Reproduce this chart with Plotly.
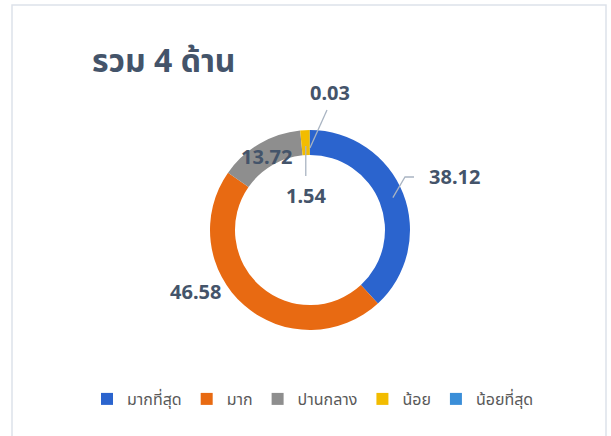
import math
import plotly.graph_objects as go

# ---- data ----
categories = ["มากที่สุด", "มาก", "ปานกลาง", "น้อย", "น้อยที่สุด"]
values = [38.12, 46.58, 13.72, 1.54, 0.03]
title_text = "รวม 4 ด้าน"

# ---- style ----
colors = ["#2B64CE", "#E86A12", "#8E8E8E", "#F2BC00", "#3A8ED8"]
W, H = 611, 436
CX, CY, R = 310, 230, 100       # donut centre / radius in px
HOLE = 0.75
TXT = "#44546A"
LINE = "#A9B4C2"
FONT = "Noto Sans, Noto Sans Thai, Tahoma, sans-serif"

def px(x):
    return x / W

def py(y):
    return 1 - y / H

fig = go.Figure(go.Pie(
    labels=categories, values=values, sort=False, direction="clockwise",
    rotation=0, hole=HOLE, textinfo="none", hoverinfo="label+value",
    marker=dict(colors=colors, line=dict(width=0)),
    domain=dict(x=[px(CX - R), px(CX + R)], y=[py(CY + R), py(CY - R)]),
))

# slice mid-angles (clockwise from 12 o'clock) from the data
total = sum(values)
mids = []
acc = 0
for v in values:
    mids.append((acc + v / 2) / total * 360)
    acc += v

def polar(angle_deg, r):
    a = math.radians(angle_deg)
    return CX + r * math.sin(a), CY - r * math.cos(a)

# label text positions (px) – layout choices
label_pos = [(454, 177), (195, 291), (266, 156), (306, 195), (330, 92)]

annotations = []
for v, (lx, ly) in zip(values, label_pos):
    annotations.append(dict(
        x=px(lx), y=py(ly), xref="paper", yref="paper", text=f"<b>{v:.2f}</b>",
        showarrow=False, font=dict(size=20, color=TXT, family=FONT),
        xanchor="center", yanchor="middle"))

annotations.append(dict(
    x=px(90), y=py(59), xref="paper", yref="paper", text=f"<b>{title_text}</b>",
    showarrow=False, font=dict(size=32, color=TXT, family=FONT),
    xanchor="left", yanchor="middle"))

shapes = []
# leader line for first slice (elbow)
sx, sy = polar(mids[0], 89)
shapes.append(dict(type="path", xref="paper", yref="paper",
                   path=f"M {px(sx)},{py(sy)} L {px(405)},{py(177)} L {px(414)},{py(177)}",
                   line=dict(color=LINE, width=1.3)))
# leader for 1.54
sx, sy = polar(mids[3], 84)
shapes.append(dict(type="line", xref="paper", yref="paper",
                   x0=px(sx), y0=py(sy), x1=px(sx), y1=py(176),
                   line=dict(color=LINE, width=1.3)))
# leader for 0.03
sx, sy = polar(mids[4], 82)
shapes.append(dict(type="line", xref="paper", yref="paper",
                   x0=px(sx), y0=py(sy), x1=px(327), y1=py(110),
                   line=dict(color=LINE, width=1.3)))
# chart border
shapes.append(dict(type="rect", xref="paper", yref="paper",
                   x0=px(12), y0=py(470), x1=px(606), y1=py(5),
                   line=dict(color="#DDE2EA", width=1.5), fillcolor="rgba(0,0,0,0)",
                   layer="below"))

fig.update_layout(
    width=W, height=H, margin=dict(l=0, r=0, t=0, b=0),
    paper_bgcolor="white", plot_bgcolor="white",
    showlegend=True,
    legend=dict(orientation="h", x=px(313), xanchor="center", y=py(399), yanchor="middle",
                font=dict(size=16, color="#595959", family=FONT),
                itemwidth=30, traceorder="normal"),
    annotations=annotations, shapes=shapes,
)

fig.write_html("out.html", config={"displayModeBar": False},
               post_script="document.body.style.margin='0';document.body.style.overflow='hidden';")
